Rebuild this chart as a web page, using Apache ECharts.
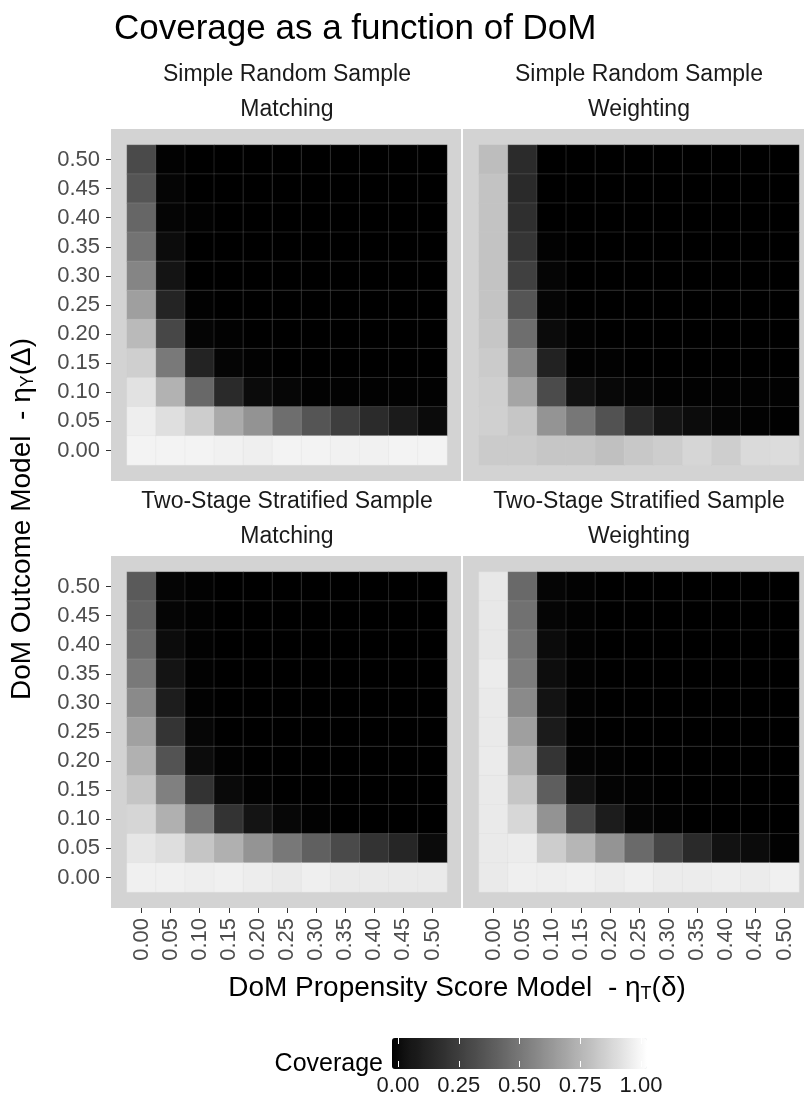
<!DOCTYPE html>
<html>
<head>
<meta charset="utf-8">
<title>Coverage as a function of DoM</title>
<script src="https://cdn.jsdelivr.net/npm/echarts@6/dist/echarts.min.js"></script>
<style>
  html, body { margin: 0; padding: 0; background: #fff; }
  #chart { width: 804px; height: 1097px; }
</style>
</head>
<body>
<div id="chart"></div>
<script>
  // DoM levels, same for both axes
  const xLevels = ['0.00', '0.05', '0.10', '0.15', '0.20', '0.25', '0.30', '0.35', '0.40', '0.45', '0.50'];
  const yLevels = ['0.00', '0.05', '0.10', '0.15', '0.20', '0.25', '0.30', '0.35', '0.40', '0.45', '0.50'];
  const legendTicks = [0, 0.25, 0.5, 0.75, 1];

  // coverage, rows from eta_Y = 0.50 (top) down to 0.00, columns eta_T = 0.00 .. 0.50
  const srsMatching = [
    [0.315, 0.005, 0, 0, 0, 0, 0, 0, 0, 0, 0],
    [0.362, 0.014, 0, 0, 0, 0, 0, 0, 0, 0, 0],
    [0.432, 0.014, 0.005, 0, 0, 0, 0, 0, 0, 0, 0],
    [0.484, 0.033, 0, 0, 0, 0, 0, 0, 0, 0, 0],
    [0.555, 0.063, 0, 0, 0, 0, 0, 0, 0, 0, 0],
    [0.655, 0.142, 0.005, 0, 0, 0, 0, 0, 0, 0, 0],
    [0.755, 0.301, 0.014, 0.005, 0, 0, 0, 0, 0, 0, 0],
    [0.831, 0.508, 0.137, 0.014, 0.005, 0, 0, 0, 0, 0, 0],
    [0.899, 0.726, 0.44, 0.171, 0.03, 0.017, 0.005, 0.005, 0.005, 0.005, 0.005],
    [0.94, 0.89, 0.824, 0.697, 0.609, 0.464, 0.362, 0.262, 0.176, 0.098, 0.03],
    [0.958, 0.958, 0.958, 0.951, 0.944, 0.958, 0.958, 0.951, 0.951, 0.958, 0.958]
  ];
  const srsWeighting = [
    [0.766, 0.176, 0, 0, 0, 0, 0, 0, 0, 0, 0],
    [0.788, 0.171, 0, 0, 0, 0, 0, 0, 0, 0, 0],
    [0.788, 0.194, 0, 0, 0, 0, 0, 0, 0, 0, 0],
    [0.788, 0.221, 0.005, 0, 0, 0, 0, 0, 0, 0, 0],
    [0.788, 0.27, 0.014, 0, 0, 0, 0, 0, 0, 0, 0],
    [0.792, 0.362, 0.014, 0, 0, 0, 0, 0, 0, 0, 0],
    [0.799, 0.464, 0.03, 0.005, 0, 0, 0, 0, 0, 0, 0],
    [0.817, 0.575, 0.132, 0.005, 0.005, 0, 0, 0, 0, 0, 0],
    [0.831, 0.678, 0.319, 0.055, 0.022, 0.014, 0.005, 0.005, 0.005, 0.005, 0.005],
    [0.834, 0.799, 0.613, 0.5, 0.349, 0.171, 0.063, 0.033, 0.014, 0.005, 0.003],
    [0.817, 0.817, 0.799, 0.799, 0.777, 0.806, 0.824, 0.856, 0.827, 0.87, 0.88]
  ];
  const tssMatching = [
    [0.383, 0.014, 0.005, 0, 0, 0, 0, 0, 0, 0, 0],
    [0.42, 0.014, 0.005, 0, 0, 0, 0, 0, 0, 0, 0],
    [0.452, 0.033, 0.005, 0, 0, 0, 0, 0, 0, 0, 0],
    [0.508, 0.063, 0.005, 0, 0, 0, 0, 0, 0, 0, 0],
    [0.575, 0.108, 0.005, 0, 0, 0, 0, 0, 0, 0, 0],
    [0.663, 0.217, 0.017, 0, 0, 0, 0, 0, 0, 0, 0],
    [0.722, 0.353, 0.033, 0.005, 0, 0, 0, 0, 0, 0, 0],
    [0.795, 0.536, 0.212, 0.027, 0.005, 0, 0, 0, 0, 0, 0],
    [0.856, 0.718, 0.5, 0.212, 0.063, 0.02, 0.005, 0, 0, 0, 0],
    [0.916, 0.887, 0.795, 0.718, 0.613, 0.504, 0.407, 0.315, 0.212, 0.152, 0.03],
    [0.947, 0.947, 0.94, 0.947, 0.937, 0.927, 0.944, 0.927, 0.927, 0.927, 0.927]
  ];
  const tssWeighting = [
    [0.92, 0.444, 0.014, 0.005, 0, 0, 0, 0, 0, 0, 0],
    [0.92, 0.476, 0.014, 0.005, 0, 0, 0, 0, 0, 0, 0],
    [0.92, 0.5, 0.03, 0.005, 0, 0, 0, 0, 0, 0, 0],
    [0.933, 0.524, 0.037, 0.005, 0, 0, 0, 0, 0, 0, 0],
    [0.927, 0.575, 0.059, 0.005, 0, 0, 0, 0, 0, 0, 0],
    [0.927, 0.655, 0.098, 0.005, 0, 0, 0, 0, 0, 0, 0],
    [0.93, 0.726, 0.217, 0.011, 0.005, 0, 0, 0, 0, 0, 0],
    [0.927, 0.799, 0.4, 0.055, 0.011, 0.005, 0, 0, 0, 0, 0],
    [0.927, 0.859, 0.609, 0.297, 0.103, 0.014, 0.005, 0, 0, 0, 0],
    [0.927, 0.933, 0.824, 0.74, 0.613, 0.448, 0.297, 0.171, 0.055, 0.03, 0.005],
    [0.927, 0.944, 0.94, 0.947, 0.937, 0.947, 0.933, 0.933, 0.94, 0.933, 0.947]
  ];

  const panels = [
    { sample: 'Simple Random Sample', method: 'Matching', values: srsMatching },
    { sample: 'Simple Random Sample', method: 'Weighting', values: srsWeighting },
    { sample: 'Two-Stage Stratified Sample', method: 'Matching', values: tssMatching },
    { sample: 'Two-Stage Stratified Sample', method: 'Weighting', values: tssWeighting }
  ];

  const font = '"Liberation Sans", Arial, Helvetica, sans-serif';

  // black -> white through Lab lightness, like ggplot's gradient
  const grayAt = (v) => {
    const L = v * 100;
    const fy = (L + 16) / 116;
    const Y = L > 8 ? fy * fy * fy : L / 903.3;
    const s = Y <= 0.0031308 ? 12.92 * Y : 1.055 * Math.pow(Y, 1 / 2.4) - 0.055;
    const g = Math.round(Math.max(0, Math.min(1, s)) * 255);
    return 'rgb(' + g + ',' + g + ',' + g + ')';
  };
  const rampColors = [];
  for (let i = 0; i <= 40; i++) rampColors.push(grayAt(i / 40));

  const toCells = (rows) => {
    const out = [];
    rows.forEach((row, r) => {
      row.forEach((v, c) => out.push([c, rows.length - 1 - r, v]));
    });
    return out;
  };

  // panel boxes: background and cell area
  const colBg = [{ left: 111, width: 350 }, { left: 463, width: 341 }];
  const colCells = [{ left: 127, width: 320 }, { left: 479, width: 320 }];
  const rowBg = [{ top: 129, height: 352 }, { top: 556, height: 352 }];
  const rowCells = [{ top: 145, height: 320 }, { top: 572, height: 320 }];

  const grids = [];
  const xAxes = [];
  const yAxes = [];
  const series = [];
  const graphics = [];

  panels.forEach((p, i) => {
    const col = i % 2, row = Math.floor(i / 2);
    grids.push({
      left: colCells[col].left, width: colCells[col].width,
      top: rowCells[row].top, height: rowCells[row].height,
      show: false
    });
    xAxes.push({
      gridIndex: i, type: 'category', data: xLevels, offset: 16,
      show: row === 1,
      axisLine: { show: false },
      axisTick: { show: true, alignWithLabel: true, length: 5, lineStyle: { color: '#333', width: 1 } },
      axisLabel: { rotate: 90, margin: 10, fontSize: 22, color: '#4d4d4d', fontFamily: font, interval: 0 },
      splitLine: { show: false }
    });
    yAxes.push({
      gridIndex: i, type: 'category', data: yLevels, offset: 16,
      show: col === 0,
      axisLine: { show: false },
      axisTick: { show: true, alignWithLabel: true, length: 5, lineStyle: { color: '#333', width: 1 } },
      axisLabel: { margin: 11, fontSize: 22, color: '#4d4d4d', fontFamily: font, interval: 0 },
      splitLine: { show: false }
    });
    series.push({
      type: 'heatmap', xAxisIndex: i, yAxisIndex: i,
      data: toCells(p.values),
      itemStyle: { borderColor: 'rgba(211,211,211,0.16)', borderWidth: 1 },
      emphasis: { disabled: true },
      progressive: 0
    });
    // strip labels
    const cx = colCells[col].left + colCells[col].width / 2;
    const topY = rowBg[row].top;
    graphics.push({
      type: 'text', x: cx, y: topY - 54,
      style: { text: p.sample, fontSize: 23, fontFamily: font, fill: '#1a1a1a', align: 'center', verticalAlign: 'middle' }
    });
    graphics.push({
      type: 'text', x: cx, y: topY - 19,
      style: { text: p.method, fontSize: 23, fontFamily: font, fill: '#1a1a1a', align: 'center', verticalAlign: 'middle' }
    });
  });

  // grey panel backgrounds
  panels.forEach((p, i) => {
    const col = i % 2, row = Math.floor(i / 2);
    grids.push({
      left: colBg[col].left, width: colBg[col].width,
      top: rowBg[row].top, height: rowBg[row].height,
      show: true, backgroundColor: '#d3d3d3', borderWidth: 0, z: -1
    });
  });

  // colour bar scale
  const legendGrid = grids.length;
  grids.push({ left: 398, width: 243, top: 1038, height: 31, show: false });
  xAxes.push({
    gridIndex: legendGrid, type: 'value', min: 0, max: 1, interval: 0.25, position: 'bottom', z: 10,
    axisLine: { show: false },
    axisTick: { show: true, inside: true, length: 6, lineStyle: { color: '#fff', width: 1 } },
    axisLabel: { margin: 8, fontSize: 22, color: '#1a1a1a', fontFamily: font, formatter: (v) => v.toFixed(2) },
    splitLine: { show: false }
  });
  xAxes.push({
    gridIndex: legendGrid, type: 'value', min: 0, max: 1, interval: 0.25, position: 'top', z: 10,
    axisLine: { show: false },
    axisTick: { show: true, inside: true, length: 6, lineStyle: { color: '#fff', width: 1 } },
    axisLabel: { show: false },
    splitLine: { show: false }
  });
  yAxes.push({ gridIndex: legendGrid, type: 'value', show: false });

  graphics.push({
    type: 'text', x: 22, y: 519, rotation: Math.PI / 2,
    style: {
      text: '{a|DoM Outcome Model  - η}{b|Y}{a|(Δ)}',
      align: 'center', verticalAlign: 'middle', fill: '#000',
      rich: {
        a: { fontSize: 28, fontFamily: font, lineHeight: 31, fill: '#000' },
        b: { fontSize: 18, fontFamily: font, lineHeight: 12, verticalAlign: 'bottom', fill: '#000' }
      }
    }
  });
  graphics.push({
    type: 'text', x: 457, y: 988,
    style: {
      text: '{a|DoM Propensity Score Model  - η}{b|T}{a|(δ)}',
      align: 'center', verticalAlign: 'middle', fill: '#000',
      rich: {
        a: { fontSize: 28, fontFamily: font, lineHeight: 31, fill: '#000' },
        b: { fontSize: 18, fontFamily: font, lineHeight: 12, verticalAlign: 'bottom', fill: '#000' }
      }
    }
  });
  graphics.push({
    type: 'text', x: 383, y: 1064,
    style: { text: 'Coverage', fontSize: 25, fontFamily: font, fill: '#000', align: 'right', verticalAlign: 'middle' }
  });

  const chart = echarts.init(document.getElementById('chart'), null, { renderer: 'canvas' });
  chart.setOption({
    animation: false,
    backgroundColor: '#fff',
    title: {
      text: 'Coverage as a function of DoM',
      left: 109, top: 7,
      textStyle: { fontSize: 35, fontWeight: 'normal', color: '#000', fontFamily: font }
    },
    grid: grids,
    xAxis: xAxes,
    yAxis: yAxes,
    visualMap: {
      type: 'continuous', min: 0, max: 1, orient: 'horizontal',
      left: 392, top: 1038, itemWidth: 31, itemHeight: 255, padding: 0,
      calculable: false, hoverLink: false, seriesIndex: [0, 1, 2, 3],
      inRange: { color: rampColors },
      textStyle: { color: 'transparent' }
    },
    graphic: graphics,
    series: series
  });
</script>
</body>
</html>
